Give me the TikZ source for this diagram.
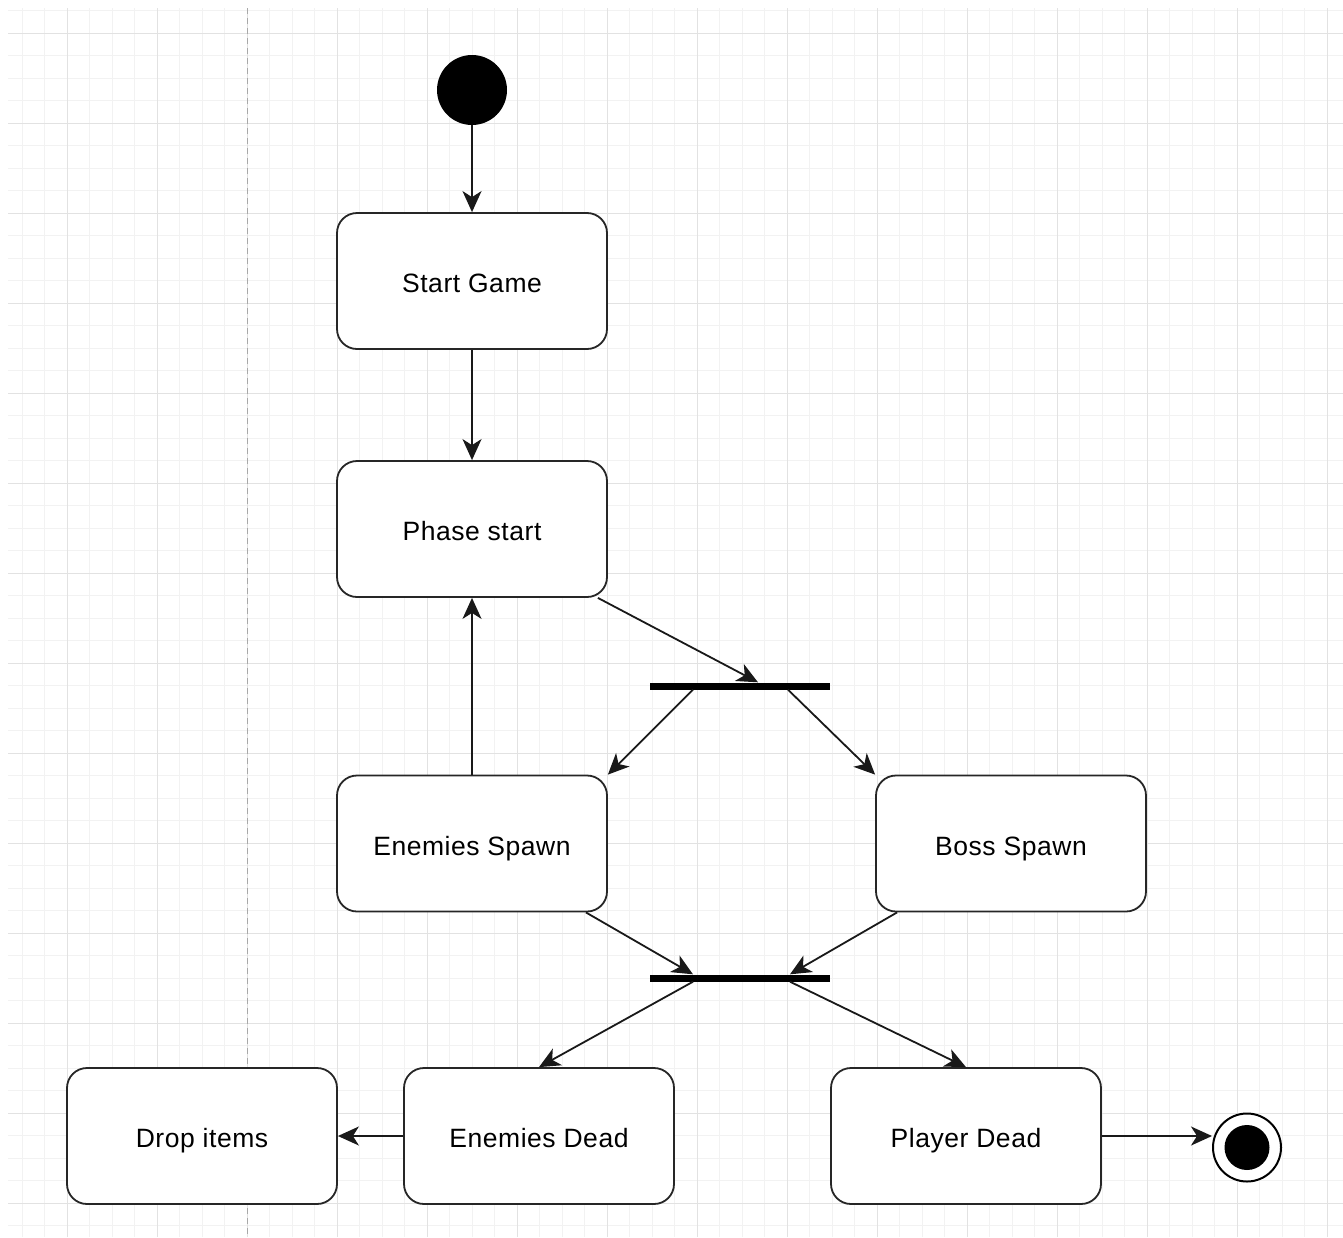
\documentclass[tikz,border=0pt]{standalone}
\usepackage{fontspec}
\setmainfont{Liberation Sans}[LetterSpace=2]
\usetikzlibrary{arrows.meta}
\definecolor{gridminor}{HTML}{F2F2F2}
\definecolor{gridmajor}{HTML}{E2E2E2}
\definecolor{lanegray}{HTML}{A8A8A8}
\begin{document}
\begin{tikzpicture}[x=1pt,y=-1pt,
  state/.style={draw=black!85, line width=1.8pt, rounded corners=20pt, fill=white,
    minimum width=270pt, minimum height=136pt, inner sep=0pt,
    text height=23pt, text depth=0pt,
    font=\fontsize{26.5}{30}\selectfont},
  syncbar/.style={fill=black, draw=none, minimum width=180pt, minimum height=7pt, inner sep=0pt},
  flow/.style={line width=1.8pt, draw=black!90,
    -{Stealth[length=21pt, width=19pt, inset=6pt]}},
]
% canvas and background grid
\useasboundingbox (0,0) rectangle (1343,1237);
\fill[white] (0,0) rectangle (1343,1237);
\foreach \i [evaluate=\i as \x using 22+22.5*\i] in {0,...,58}
  \draw[gridminor, line width=1pt] (\x,8) -- (\x,1237);
\foreach \j [evaluate=\j as \y using 10.5+22.5*\j] in {0,...,54}
  \draw[gridminor, line width=1pt] (8,\y) -- (1343,\y);
\foreach \i [evaluate=\i as \x using 67+90*\i] in {0,...,14}
  \draw[gridmajor, line width=1pt] (\x,8) -- (\x,1237);
\foreach \j [evaluate=\j as \y using 33+90*\j] in {0,...,13}
  \draw[gridmajor, line width=1pt] (8,\y) -- (1343,\y);
% dashed separator
\draw[lanegray, line width=1pt, dash pattern=on 6pt off 4pt] (247,8) -- (247,1237);

% states
\node[circle, fill=black, minimum size=70pt, inner sep=0pt] (init) at (472,90) {};
\node[state] (sg) at (472,281) {Start Game};
\node[state] (ps) at (472,529) {Phase start};
\node[syncbar] (f1) at (740,686) {};
\node[state] (es) at (472,843.5) {Enemies Spawn};
\node[state] (bs) at (1011,843.5) {Boss Spawn};
\node[syncbar] (f2) at (740,978) {};
\node[state] (di) at (202,1136) {Drop items};
\node[state] (ed) at (539,1136) {Enemies Dead};
\node[state] (pd) at (966,1136) {Player Dead};
\node[circle, draw=black, fill=white, line width=2pt, minimum size=68pt, inner sep=0pt] (fin) at (1247,1147.5) {};
\node[circle, fill=black, minimum size=45pt, inner sep=0pt] (fincore) at (fin.center) {};

% transitions
\draw[flow] (init) -- (sg);
\draw[flow] (sg) -- (ps);
\draw[flow] ([xshift=-10pt]ps.south east) -- ([xshift=18pt]f1.north);
\draw[flow] ([xshift=-47pt]f1.south) -- (es.north east);
\draw[flow] ([xshift=48pt]f1.south) -- (bs.north west);
\draw[flow] (es.north) -- (ps.south);
\draw[flow] ([xshift=-22pt]es.south east) -- ([xshift=-47pt]f2.north);
\draw[flow] ([xshift=22pt]bs.south west) -- ([xshift=50pt]f2.north);
\draw[flow] ([xshift=-47pt]f2.south) -- (ed.north);
\draw[flow] ([xshift=50pt]f2.south) -- (pd.north);
\draw[flow] (ed.west) -- (di.east);
\draw[flow] (pd.east) -- (pd.east -| fin.west);
\end{tikzpicture}
\end{document}
